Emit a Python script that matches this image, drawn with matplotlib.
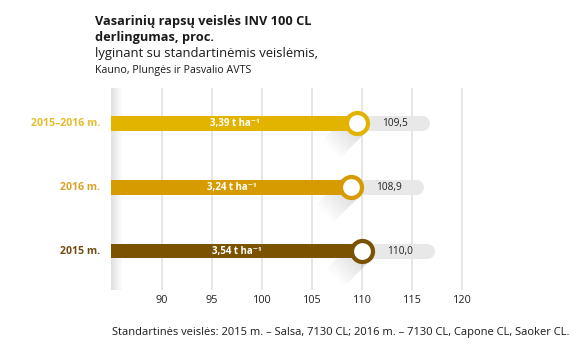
import matplotlib
matplotlib.use('Agg')
import matplotlib.pyplot as plt
import numpy as np

plt.rcParams['font.family'] = ['Open Sans', 'DejaVu Sans']

# --- data ---
labels = ['2015–2016 m.', '2016 m.', '2015 m.']
values = [109.5, 108.9, 110.0]
yields = ['3,39', '3,24', '3,54']
colors = ['#E2B400', '#D69B00', '#7A5200']
label_colors = ['#E6BB2E', '#D9A22A', '#6E4C12']
ticks = [90, 95, 100, 105, 110, 115, 120]

W, H = 586, 353
fig = plt.figure(figsize=(W / 100, H / 100), dpi=100)
fig.patch.set_facecolor('white')

def fx(px):
    return px / W

def fy(py):
    return 1 - py / H

# axes placed in pixel space: x 111..586, y 88..290
ax = fig.add_axes([fx(111), fy(290), fx(586) - fx(111), fy(88) - fy(290)])
ax.set_xlim(84.9, 132.4)
ax.set_ylim(-0.61, 2.55)
ax.axis('off')

ypos = [2, 1, 0]
px_x = 10.0   # px per x unit
px_y = 64.0   # px per y unit

# grid lines
for t in ticks:
    ax.axvline(t, color='#E4E4E4', lw=1.3, zorder=0)
    ax.text(t, -0.61 - 11 / px_y, str(t), ha='center', va='center',
            fontsize=7.8, color='#222222', clip_on=False)

# left edge shadow
grad = np.linspace(0.22, 0, 50).reshape(1, -1)
ax.imshow(np.dstack([np.full((1, 50, 3), 0.45), grad]), extent=(84.9, 86.1, -0.61, 2.55),
          aspect='auto', zorder=1, interpolation='bilinear')

bar_h = 15 / px_y
r_out = 12.5
for y, v, c, lc, lab, yl in zip(ypos, values, colors, label_colors, labels, yields):
    # grey pill with value
    cap = 7.5 / px_x
    ax.plot([v, v + 7.3 - cap], [y, y], color='#E8E8E8', lw=15 * 0.72,
            solid_capstyle='round', zorder=2)
    ax.text(v + 2.5, y, f'{v:.1f}'.replace('.', ','), ha='left', va='center',
            fontsize=7.3, color='#222222', zorder=5)
    # soft long shadow under the ring
    for L in np.arange(4, 40, 3):
        a0 = (v + 0.707 * r_out / px_x, y - 0.707 * r_out / px_y)
        a1 = (v - 0.707 * r_out / px_x, y + 0.707 * r_out / px_y)
        pts = [a0, a1,
               (a1[0] - 0.707 * L / px_x, a1[1] - 0.707 * L / px_y),
               (a0[0] - 0.707 * L / px_x, a0[1] - 0.707 * L / px_y)]
        ax.add_patch(plt.Polygon(pts, closed=True, facecolor='#666666', edgecolor='none',
                                 alpha=0.018, zorder=2))
    # bar
    ax.barh(y, v - 84.9, left=84.9, height=bar_h, color=c, zorder=3)
    ax.text((85 + v) / 2, y, f'{yl} t ha⁻¹', ha='center', va='center', fontsize=7,
            fontweight='bold', color='white', zorder=5)
    # ring marker
    ax.plot([v], [y], marker='o', ms=21 * 0.72, mfc='white', mec=c,
            mew=4.2 * 0.72, zorder=4)
    # category label
    fig.text(fx(100), fy(123 + (2 - y) * 64), lab, ha='right', va='center',
             fontsize=7.6, fontweight='bold', color=lc)

# title block
fig.text(fx(95), fy(21), 'Vasarinių rapsų veislės INV 100 CL', ha='left', va='center',
         fontsize=9.2, fontweight='bold', color='#1A1A1A')
fig.text(fx(95), fy(38), 'derlingumas, proc.', ha='left', va='center',
         fontsize=9.2, fontweight='bold', color='#1A1A1A')
fig.text(fx(95), fy(54), 'lyginant su standartinėmis veislėmis,', ha='left', va='center',
         fontsize=9.4, color='#1A1A1A')
fig.text(fx(95), fy(71), 'Kauno, Plungės ir Pasvalio AVTS', ha='left', va='center',
         fontsize=7.7, color='#1A1A1A')

fig.text(fx(112), fy(332),
         'Standartinės veislės: 2015 m. – Salsa, 7130 CL; 2016 m. – 7130 CL, Capone CL, Saoker CL.',
         ha='left', va='center', fontsize=8, color='#1A1A1A')

fig.savefig('out.png', dpi=100, facecolor='white')
